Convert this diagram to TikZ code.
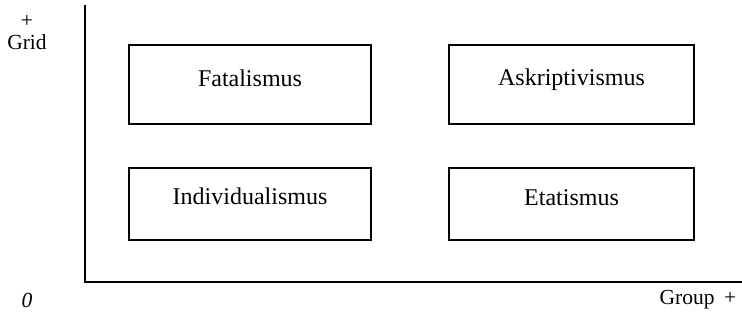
\documentclass[tikz,border=0pt]{standalone}
\usepackage{fontspec}
\setmainfont{Liberation Serif}
\begin{document}
\begin{tikzpicture}[x=1pt,y=-1pt,
  quad/.style={draw,line width=1.6pt,inner sep=0pt},
  txt/.style={inner sep=0pt,font=\fontsize{24}{28}\selectfont},
  axis/.style={line width=1.4pt},
  lab/.style={inner sep=0pt,font=\fontsize{21.5}{25}\selectfont}]
\useasboundingbox (0,0) rectangle (742,325);
\node[quad,minimum width=242pt,minimum height=79pt] (fat) at (250,84.5) {};
\node[quad,minimum width=245pt,minimum height=79pt] (ask) at (571.5,84.5) {};
\node[quad,minimum width=242pt,minimum height=72pt] (ind) at (250,204) {};
\node[quad,minimum width=245pt,minimum height=72pt] (eta) at (571.5,204) {};
\node[txt] (fatT) at ([yshift=6pt]fat.center) {Fatalismus};
\node[txt] (askT) at ([yshift=5pt]ask.center) {Askriptivismus};
\node[txt] (indT) at ([yshift=8pt]ind.center) {Individualismus};
\node[txt] (etaT) at ([yshift=6pt]eta.center) {Etatismus};
\coordinate (top) at (85,5);
\coordinate (origin) at (85,282);
\coordinate (right) at (742,282);
\draw[axis] (top) -- (origin) -- (right);
\node[lab] (plus) at (27,21) {+};
\node[lab] (grid) at (27,42) {Grid};
\node[lab] (zero) at (27,300) {\itshape 0};
\node[lab] (group) at (698,300) {Group\hspace{0.45em}+};
\end{tikzpicture}
\end{document}
